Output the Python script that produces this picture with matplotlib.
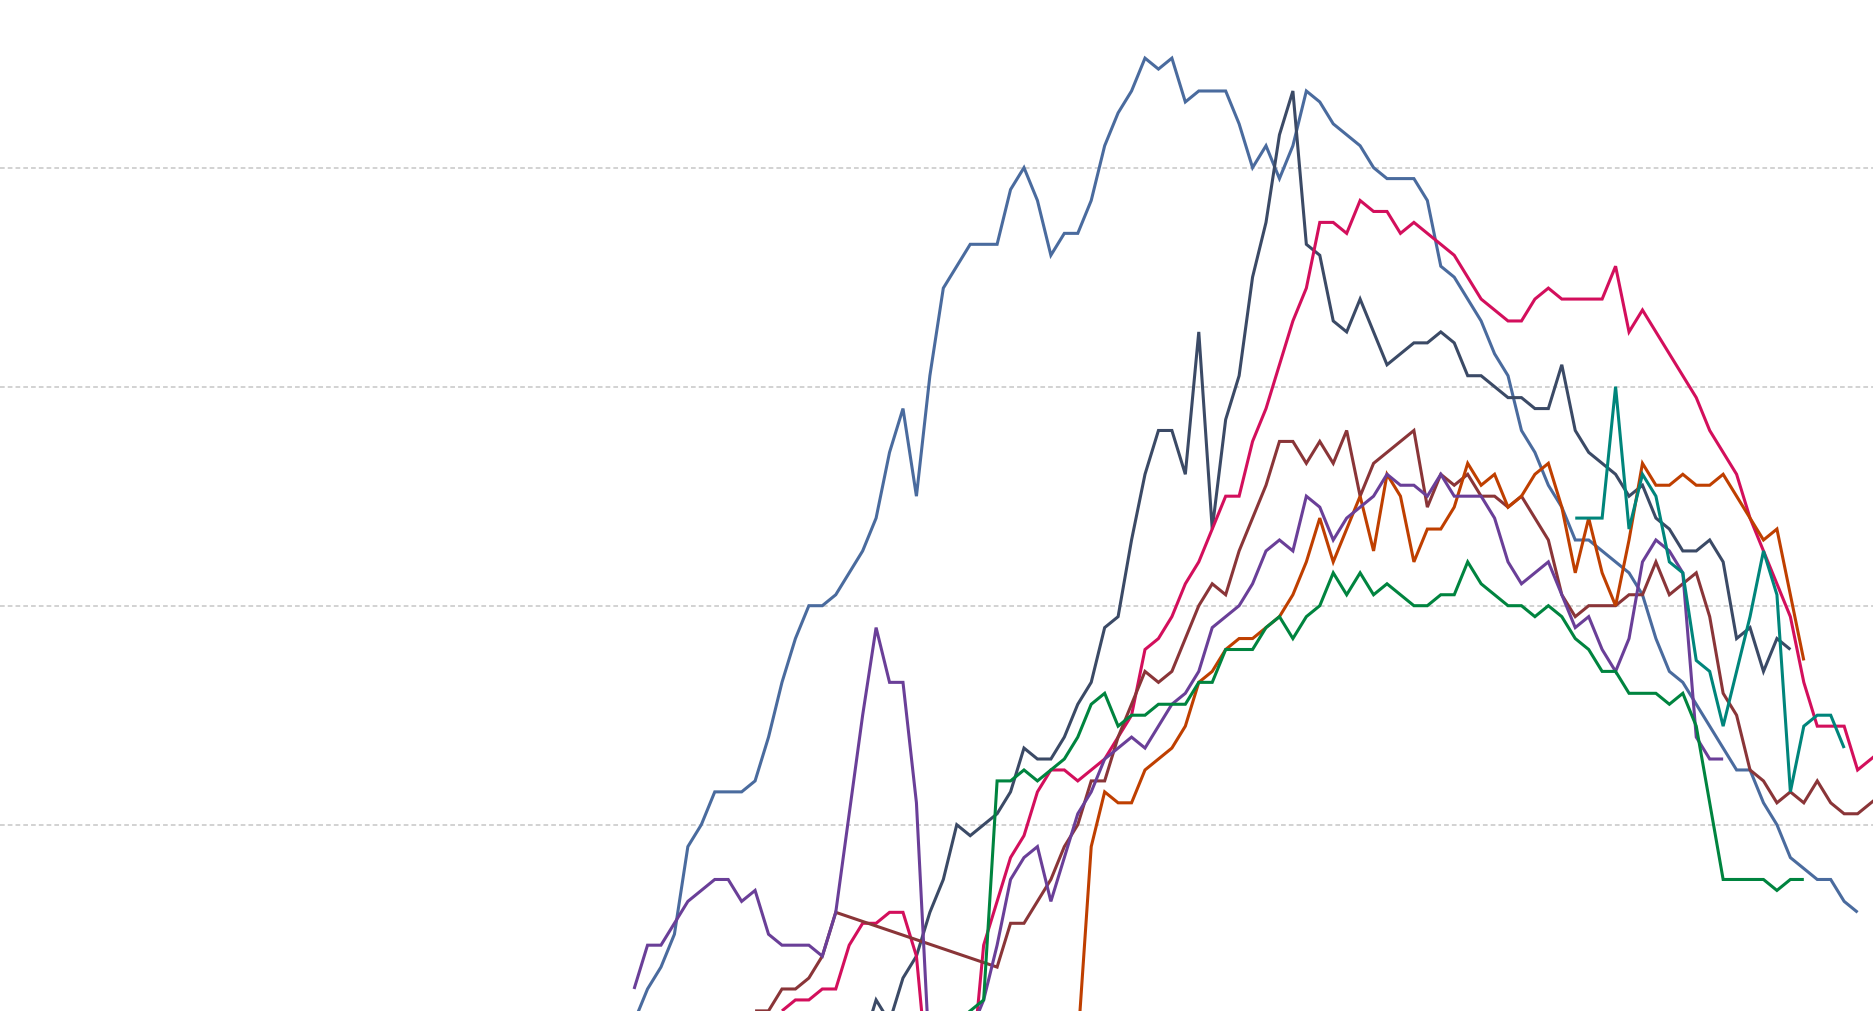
import numpy as np
from matplotlib import pyplot as plt

# weekly index positions (gridlines at 20/40/60/80)
steel = [2, 5, 7, 10, 18, 20, 23, 23, 23, 24,
         28, 33, 37, 40, 40, 41, 43, 45, 48, 54,
         58, 50, 61, 69, 71, 73, 73, 73, 78, 80,
         77, 72, 74, 74, 77, 82, 85, 87, 90, 89,
         90, 86, 87, 87, 87, 84, 80, 82, 79, 82,
         87, 86, 84, 83, 82, 80, 79, 79, 79, 77,
         71, 70, 68, 66, 63, 61, 56, 54, 51, 49,
         46, 46, 45, 44, 43, 41, 37, 34, 33, 31,
         29, 27, 25, 25, 22, 20, 17, 16, 15, 15,
         13, 12]
steel_start = 0

navy = [0, 4, 2, 6, 8, 12, 15, 20, 19, 20,
        21, 23, 27, 26, 26, 28, 31, 33, 38, 39,
        46, 52, 56, 56, 52, 65, 47, 57, 61, 70,
        75, 83, 87, 73, 72, 66, 65, 68, 65, 62,
        63, 64, 64, 65, 64, 61, 61, 60, 59, 59,
        58, 58, 62, 56, 54, 53, 52, 50, 51, 48,
        47, 45, 45, 46, 44, 37, 38, 34, 37, 36]
navy_start = 17

crimson = [3, 4, 4, 5, 5, 9, 11, 11, 12, 12,
           8, -5, -5, -5, -4, 9, 13, 17, 19, 23,
           25, 25, 24, 25, 26, 28, 30, 36, 37, 39,
           42, 44, 47, 50, 50, 55, 58, 62, 66, 69,
           75, 75, 74, 77, 76, 76, 74, 75, 74, 73,
           72, 70, 68, 67, 66, 66, 68, 69, 68, 68,
           68, 68, 71, 65, 67, 65, 63, 61, 59, 56,
           54, 52, 48, 45, 42, 39, 33, 29, 29, 29,
           25, 26, 27]
crimson_start = 11

# brown has no readings between week 15 and week 27
brown_x = list(range(9, 16)) + list(range(27, 94))
brown = [3, 3, 5, 5, 6, 8, 12,
         7, 11, 11, 13, 15, 18, 20, 24, 24, 28,
         31, 34, 33, 34, 37, 40, 42, 41, 45, 48,
         51, 55, 55, 53, 55, 53, 56, 50, 53, 54,
         55, 56, 49, 52, 51, 52, 50, 50, 49, 50,
         48, 46, 41, 39, 40, 40, 40, 41, 41, 44,
         41, 42, 43, 39, 32, 30, 25, 24, 22, 23,
         22, 24, 22, 21, 21, 22, 23]

orange = [0, 18, 23, 22, 22, 25, 26, 27, 29, 33,
          34, 36, 37, 37, 38, 39, 41, 44, 48, 44,
          47, 50, 45, 52, 50, 44, 47, 47, 49, 53,
          51, 52, 49, 50, 52, 53, 49, 43, 48, 43,
          40, 46, 53, 51, 51, 52, 51, 51, 52, 50,
          48, 46, 47, 41, 35]
orange_start = 33

purple = [5, 9, 9, 11, 13, 14, 15, 15, 13, 14,
          10, 9, 9, 9, 8, 12, 21, 30, 38, 33,
          33, 22, -2, -2, -2, 1, 4, 9, 15, 17,
          18, 13, 17, 21, 23, 26, 27, 28, 27, 29,
          31, 32, 34, 38, 39, 40, 42, 45, 46, 45,
          50, 49, 46, 48, 49, 50, 52, 51, 51, 50,
          52, 50, 50, 50, 48, 44, 42, 43, 44, 41,
          38, 39, 36, 34, 37, 44, 46, 45, 43, 28,
          26, 26]
purple_start = 0

green = [2, 3, 4, 24, 24, 25, 24, 25, 26, 28,
         31, 32, 29, 30, 30, 31, 31, 31, 33, 33,
         36, 36, 36, 38, 39, 37, 39, 40, 43, 41,
         43, 41, 42, 41, 40, 40, 41, 41, 44, 42,
         41, 40, 40, 39, 40, 39, 37, 36, 34, 34,
         32, 32, 32, 31, 32, 29, 22, 15, 15, 15,
         15, 14, 15, 15]
green_start = 24

teal = [48, 48, 48, 60, 47, 52, 50, 44, 43, 35,
        34, 29, 34, 39, 45, 41, 23, 29, 30, 30,
        27]
teal_start = 70

grid_levels = [20, 40, 60, 80]


def main():
    fig = plt.figure(figsize=(18.74, 10.12), dpi=100)
    ax = fig.add_axes([0, 0, 1, 1])

    series = [
        (np.arange(steel_start, steel_start + len(steel)), steel, '#4a6b9e'),
        (np.arange(navy_start, navy_start + len(navy)), navy, '#3b4a66'),
        (np.arange(crimson_start, crimson_start + len(crimson)), crimson, '#d30f5c'),
        (np.array(brown_x), brown, '#8a3538'),
        (np.arange(orange_start, orange_start + len(orange)), orange, '#bf3f00'),
        (np.arange(purple_start, purple_start + len(purple)), purple, '#6a3f98'),
        (np.arange(green_start, green_start + len(green)), green, '#00843f'),
        (np.arange(teal_start, teal_start + len(teal)), teal, '#00857b'),
    ]

    for y in grid_levels:
        ax.axhline(y, color='#cfcfcf', lw=1.3, dashes=(2.6, 1.7), zorder=1)

    for xs, ys, col in series:
        ax.plot(xs, ys, color=col, lw=2.2, solid_joinstyle='miter',
                solid_capstyle='butt', zorder=2)

    ax.set_xlim(-47.16, 92.22)
    ax.set_ylim(2.99, 95.4)
    ax.axis('off')

    fig.savefig('out.png', dpi=100)


if __name__ == '__main__':
    main()
